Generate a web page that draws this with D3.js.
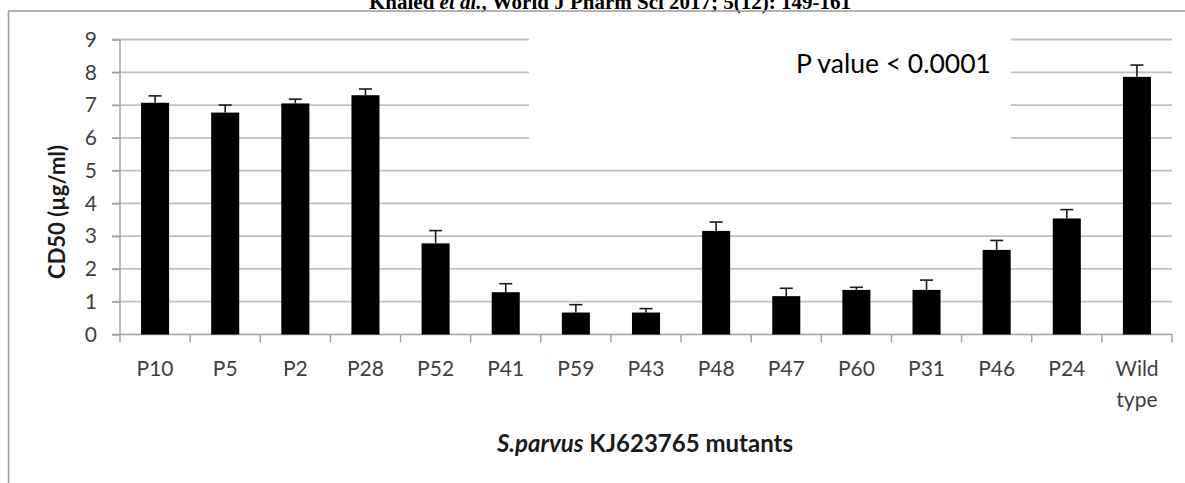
<!DOCTYPE html>
<html>
<head>
<meta charset="utf-8">
<script src="https://cdn.jsdelivr.net/npm/d3@7"></script>
<style>
  html, body { margin: 0; padding: 0; background: #fff; overflow: hidden; }
  svg text { font-family: Lato, "Open Sans", sans-serif; }
</style>
</head>
<body>
<svg id="chart" width="1185" height="483"></svg>
<script>
// data
var mutants = ['P10','P5','P2','P28','P52','P41','P59','P43','P48','P47','P60','P31','P46','P24','Wild type']
var cd50 = [7.07, 6.77, 7.05, 7.30, 2.78, 1.29, 0.67, 0.67, 3.16, 1.17, 1.36, 1.36, 2.58, 3.54, 7.86]
var sem  = [0.21, 0.23, 0.13, 0.19, 0.39, 0.26, 0.24, 0.12, 0.27, 0.24, 0.08, 0.30, 0.29, 0.27, 0.36]
var yTicks = [0,1,2,3,4,5,6,7,8,9]

var svg = d3.select('#chart')

var x = d3.scaleBand().domain(mutants).range([120, 1172]).paddingInner(0.6).paddingOuter(0.3)
var y = d3.scaleLinear().domain([0, 9]).range([334.5, 39.5])

// page header (cut off at top, as in the source page) and frame
var hd = svg.append('text')
	.attr('x', 610).attr('y', 8.5)
	.attr('text-anchor', 'middle')
	.style('font-family', '"Liberation Serif", serif')
	.style('font-weight', 'bold')
	.style('font-size', '21px')
hd.append('tspan').text('Khaled ')
hd.append('tspan').style('font-style', 'italic').text('et al.')
hd.append('tspan').text(', World J Pharm Sci 2017; 5(12): 149-161')
svg.append('line').attr('x1', 8).attr('x2', 1185).attr('y1', 11).attr('y2', 11)
	.style('stroke', '#9a9a9a').style('stroke-width', 1.5)
svg.append('line').attr('x1', 8.5).attr('x2', 8.5).attr('y1', 11).attr('y2', 483)
	.style('stroke', '#9a9a9a').style('stroke-width', 1.5)

// gridlines
var grid = svg.append('g')
grid.selectAll('line').data(yTicks.slice(1)).enter().append('line')
	.attr('x1', 112).attr('x2', 1172)
	.attr('y1', d => y(d)).attr('y2', d => y(d))
	.style('stroke', '#c0c0c0').style('stroke-width', 1.8)

// y axis
var yAxis = svg.append('g').attr('transform', 'translate(120,0)')
	.call(d3.axisLeft(y).tickValues(yTicks).tickSize(8).tickPadding(15))
yAxis.select('.domain').attr('d', 'M0,' + y(9) + 'V' + y(0)).style('stroke', '#a0a0a0').style('stroke-width', 1.4)
yAxis.selectAll('.tick line').style('stroke', '#a0a0a0').style('stroke-width', 1.4)
yAxis.selectAll('.tick text').style('font-size', '21px').style('fill', '#404040')

// x axis
var xAxis = svg.append('g').attr('transform', 'translate(0,' + y(0) + ')')
	.call(d3.axisBottom(x).tickSize(0).tickPadding(0))
xAxis.select('.domain').attr('d', 'M112,0H1172').style('stroke', '#a0a0a0').style('stroke-width', 1.4)
xAxis.selectAll('.tick text').remove()
var bounds = mutants.map(d => x(d) - x.step() * x.paddingInner() / 2).concat([1172])
xAxis.selectAll('line.sep').data(bounds).enter().append('line').attr('class', 'sep')
	.attr('x1', d => d).attr('x2', d => d).attr('y1', 0).attr('y2', 8)
	.style('stroke', '#a0a0a0').style('stroke-width', 1.4)
var xl = svg.append('g').selectAll('text').data(mutants).enter().append('text')
	.attr('x', d => x(d) + x.bandwidth() / 2)
	.attr('y', 376)
	.attr('text-anchor', 'middle')
	.style('font-size', '21px').style('fill', '#404040')
xl.each(function(d) {
	var parts = d.split(' ')
	var t = d3.select(this)
	parts.forEach((p, i) => {
		t.append('tspan').attr('x', x(d) + x.bandwidth() / 2).attr('dy', i ? 31 : 0).text(p)
	})
})

// p value box
svg.append('rect').attr('x', 529).attr('y', 30).attr('width', 482).attr('height', 120).style('fill', '#fff')
svg.append('text').attr('x', 796).attr('y', 73)
	.style('font-size', '26.5px').style('fill', '#000')
	.text('P value < 0.0001')

// bars
svg.append('g').selectAll('rect').data(mutants).enter().append('rect')
	.attr('x', d => x(d))
	.attr('width', x.bandwidth())
	.attr('y', (d, i) => y(cd50[i]))
	.attr('height', (d, i) => y(0) - y(cd50[i]))
	.style('fill', '#000')

// error bars (upper half)
var eb = svg.append('g').selectAll('g').data(mutants).enter().append('g')
eb.append('line')
	.attr('x1', d => x(d) + x.bandwidth() / 2).attr('x2', d => x(d) + x.bandwidth() / 2)
	.attr('y1', (d, i) => y(cd50[i])).attr('y2', (d, i) => y(cd50[i] + sem[i]))
	.style('stroke', '#1a1a1a').style('stroke-width', 1.6)
eb.append('line')
	.attr('x1', d => x(d) + x.bandwidth() / 2 - 6.5).attr('x2', d => x(d) + x.bandwidth() / 2 + 6.5)
	.attr('y1', (d, i) => y(cd50[i] + sem[i])).attr('y2', (d, i) => y(cd50[i] + sem[i]))
	.style('stroke', '#1a1a1a').style('stroke-width', 1.6)

// axis titles
svg.append('text')
	.attr('transform', 'translate(65,212) rotate(-90)')
	.attr('text-anchor', 'middle')
	.style('font-size', '22px').style('font-weight', 'bold').style('fill', '#1a1a1a')
	.text('CD50 (µg/ml)')
var xt = svg.append('text')
	.attr('x', 645).attr('y', 452)
	.attr('text-anchor', 'middle')
	.style('font-size', '24px').style('font-weight', 'bold').style('fill', '#1a1a1a')
xt.append('tspan').style('font-style', 'italic').text('S.parvus')
xt.append('tspan').text(' KJ623765 mutants')
</script>
</body>
</html>
